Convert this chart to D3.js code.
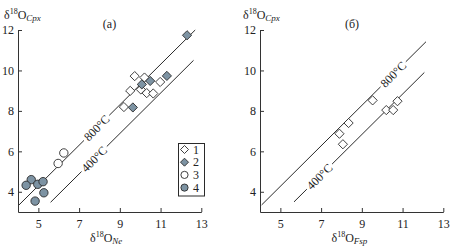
<!DOCTYPE html>
<html>
<head>
<meta charset="utf-8">
<script src="https://cdn.jsdelivr.net/npm/d3@7"></script>
<style>
  body { margin: 0; background: #fff; }
  svg text { font-family: "Liberation Serif", "DejaVu Serif", serif; fill: #222; }
</style>
</head>
<body>
<script>
// Panel (a): d18O Ne vs d18O Cpx
var a1_x = [9.73, 10.21, 9.51, 10.03, 10.32, 10.64, 10.98, 9.2];
var a1_y = [9.72, 9.65, 8.99, 9.06, 8.88, 8.86, 9.43, 8.19];
var a2_x = [10.08, 10.49, 11.31, 9.64, 12.3];
var a2_y = [9.31, 9.48, 9.73, 8.17, 11.74];
var a3_x = [5.97, 6.25];
var a3_y = [5.4, 5.92];
var a4_x = [4.65, 4.4, 4.97, 5.23, 5.27, 4.84];
var a4_y = [4.6, 4.32, 4.37, 4.5, 3.95, 3.54];

// Panel (б): d18O Fsp vs d18O Cpx
var b1_x = [9.53, 8.35, 7.9, 8.07, 10.2, 10.54, 10.75];
var b1_y = [8.52, 7.4, 6.87, 6.35, 8.04, 8.04, 8.48];

// isotherms: offset (Cpx - mineral), x extent, label position
var isoLabels = ["800°C", "400°C"];
var a_iso_offset = [-0.7, -2.12];
var a_iso_x0 = [4.05, 5.6];
var a_iso_x1 = [12.7, 12.62];
var a_iso_lab = [7.86, 7.74];
var b_iso_offset = [-0.73, -2.17];
var b_iso_x0 = [4.08, 5.67];
var b_iso_x1 = [12.15, 12.07];
var b_iso_lab = [10.54, 6.92];

var xTicks = [5, 7, 9, 11, 13];
var yTicks = [4, 6, 8, 10, 12];
var legendLabels = ["1", "2", "3", "4"];

var fillGray = "#7d93a3";
var ink = "#2a2a2a";

var svg = d3.select("body").append("svg")
    .attr("width", 451)
    .attr("height", 252);

function diamond(s) {
    return "M0," + (-s) + "L" + s + ",0L0," + s + "L" + (-s) + ",0Z";
}

function drawPanel(opt) {
    var x = d3.scaleLinear().domain([4, 13]).range([opt.left, opt.left + 183.3]);
    var y = d3.scaleLinear().domain([3, 12]).range([212, 30]);
    var g = svg.append("g");

    // axes
    var xAxis = d3.axisBottom(x).tickValues(xTicks).tickSizeInner(-4).tickSizeOuter(0).tickPadding(7);
    var yAxis = d3.axisLeft(y).tickValues(yTicks).tickSizeInner(-4).tickSizeOuter(0).tickPadding(4);
    g.append("g").attr("transform", "translate(0," + y(3) + ")").call(xAxis);
    g.append("g").attr("transform", "translate(" + x(4) + ",0)").call(yAxis);
    g.selectAll(".domain, .tick line").attr("stroke", "#333").attr("stroke-width", 1);
    g.selectAll(".tick text").attr("font-size", 12).attr("font-family", "Liberation Serif").attr("fill", "#222");

    // isotherm lines with gap for label
    var gap = 0.62;
    opt.offset.forEach(function(off, i) {
        var segs = [[opt.x0[i], opt.lab[i] - gap], [opt.lab[i] + gap, opt.x1[i]]];
        segs.forEach(function(s) {
            g.append("line")
                .attr("x1", x(s[0])).attr("y1", y(s[0] + off))
                .attr("x2", x(s[1])).attr("y2", y(s[1] + off))
                .attr("stroke", ink).attr("stroke-width", 1);
        });
        var lx = x(opt.lab[i]), ly = y(opt.lab[i] + off);
        g.append("text")
            .attr("transform", "translate(" + lx + "," + ly + ") rotate(-45)")
            .attr("text-anchor", "middle")
            .attr("dy", "0.35em")
            .attr("font-size", 12)
            .text(isoLabels[i]);
    });

    // points
    opt.series.forEach(function(s) {
        s.xs.forEach(function(v, i) {
            var px = x(v), py = y(s.ys[i]);
            if (s.shape === "diamond") {
                g.append("path").attr("d", diamond(4.6))
                    .attr("transform", "translate(" + px + "," + py + ")")
                    .attr("fill", s.fill).attr("stroke", ink).attr("stroke-width", 0.9);
            } else {
                g.append("circle").attr("cx", px).attr("cy", py).attr("r", 4.2)
                    .attr("fill", s.fill).attr("stroke", ink).attr("stroke-width", 0.9);
            }
        });
    });

    // panel label
    g.append("text").attr("x", opt.tagX).attr("y", 28).attr("text-anchor", "middle")
        .attr("font-size", 12).text(opt.tag);

    // y title
    var yt = g.append("text").attr("x", opt.yTitleX).attr("y", 19).attr("font-size", 12);
    yt.append("tspan").text("δ");
    yt.append("tspan").attr("font-size", 8).attr("dy", -5).text("18");
    yt.append("tspan").attr("dy", 5).text("O");
    yt.append("tspan").attr("font-size", 9).attr("font-style", "italic").attr("dy", 2).text("Cpx");

    // x title
    var xt = g.append("text").attr("x", opt.xTitleX).attr("y", 242).attr("font-size", 12);
    xt.append("tspan").text("δ");
    xt.append("tspan").attr("font-size", 8).attr("dy", -5).text("18");
    xt.append("tspan").attr("dy", 5).text("O");
    xt.append("tspan").attr("font-size", 9).attr("font-style", "italic").attr("dy", 2).text(opt.xSub);

    return g;
}

var gA = drawPanel({
    left: 18, tag: "(a)", tagX: 109.5, yTitleX: 4, xTitleX: 90, xSub: "Ne",
    offset: a_iso_offset, x0: a_iso_x0, x1: a_iso_x1, lab: a_iso_lab,
    series: [
        {xs: a1_x, ys: a1_y, shape: "diamond", fill: "#fff"},
        {xs: a2_x, ys: a2_y, shape: "diamond", fill: fillGray},
        {xs: a3_x, ys: a3_y, shape: "circle", fill: "#fff"},
        {xs: a4_x, ys: a4_y, shape: "circle", fill: fillGray}
    ]
});

drawPanel({
    left: 260, tag: "(б)", tagX: 352, yTitleX: 243, xTitleX: 331.5, xSub: "Fsp",
    offset: b_iso_offset, x0: b_iso_x0, x1: b_iso_x1, lab: b_iso_lab,
    series: [
        {xs: b1_x, ys: b1_y, shape: "diamond", fill: "#fff"}
    ]
});

// legend (panel a)
var leg = gA.append("g");
leg.append("rect").attr("x", 178.5).attr("y", 143.5).attr("width", 26).attr("height", 52.5)
    .attr("fill", "#fff").attr("stroke", ink).attr("stroke-width", 1);
var legFill = ["#fff", fillGray, "#fff", fillGray];
legendLabels.forEach(function(lab, i) {
    var cy = 149.5 + i * 12.7;
    if (i < 2) {
        leg.append("path").attr("d", diamond(4)).attr("transform", "translate(184.5," + cy + ")")
            .attr("fill", legFill[i]).attr("stroke", ink).attr("stroke-width", 0.9);
    } else {
        leg.append("circle").attr("cx", 184.5).attr("cy", cy).attr("r", 3.6)
            .attr("fill", legFill[i]).attr("stroke", ink).attr("stroke-width", 0.9);
    }
    leg.append("text").attr("x", 193).attr("y", cy).attr("dy", "0.35em")
        .attr("font-size", 12).text(lab);
});
</script>
</body>
</html>
